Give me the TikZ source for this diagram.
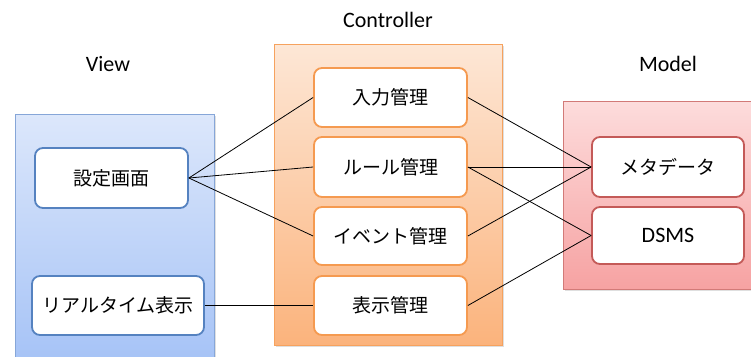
\documentclass[tikz,border=0pt]{standalone}
\usepackage{fontspec}
\setmainfont{Carlito}
\newfontfamily\jpfont{Noto Sans CJK JP}
\usetikzlibrary{shadows}
\definecolor{viewtop}{HTML}{DCE7FB}
\definecolor{viewbot}{HTML}{A3C1F6}
\definecolor{viewborder}{HTML}{86A6D8}
\definecolor{boxblue}{HTML}{5582C0}
\definecolor{ctrltop}{HTML}{FDE7D6}
\definecolor{ctrlbot}{HTML}{FBB37C}
\definecolor{ctrlborder}{HTML}{F6A25E}
\definecolor{boxorange}{HTML}{F59A50}
\definecolor{modeltop}{HTML}{FDDCDC}
\definecolor{modelbot}{HTML}{F6A2A2}
\definecolor{modelborder}{HTML}{D27A78}
\definecolor{boxred}{HTML}{C45A58}
\tikzset{
  container/.style={draw, line width=0.8pt, inner sep=0pt, anchor=north west,
    drop shadow={shadow xshift=1.5pt, shadow yshift=-1.5pt, opacity=0.25}},
  item/.style={draw, fill=white, line width=1.8pt, rounded corners=8pt,
    inner sep=0pt, minimum width=153pt, font=\jpfont\fontsize{19}{21}\selectfont},
  title/.style={font=\fontsize{22}{24}\selectfont},
  link/.style={line width=0.8pt, black}
}
\begin{document}
\begin{tikzpicture}[x=1pt,y=-1pt]
\useasboundingbox (0,0) rectangle (751,356);
\begin{scope}
\clip (0,0) rectangle (751,356);
% containers
\node[container, draw=viewborder, top color=viewtop, bottom color=viewbot,
  minimum width=199pt, minimum height=260pt] (view) at (15,114) {};
\node[container, draw=ctrlborder, top color=ctrltop, bottom color=ctrlbot,
  minimum width=228pt, minimum height=301pt] (ctrl) at (274,44) {};
\node[container, draw=modelborder, top color=modeltop, bottom color=modelbot,
  minimum width=200pt, minimum height=188pt] (model) at (563,101) {};
\end{scope}
% titles
\node[title] (tview) at (108,64) {View};
\node[title] (tctrl) at (388,20) {Controller};
\node[title] (tmodel) at (668,64) {Model};
% view items
\node[item, draw=boxblue, minimum height=60pt] (settei) at (111.5,178) {設定画面};
\node[item, draw=boxblue, minimum width=172pt, minimum height=59pt] (rt) at (118,305.5) {リアルタイム表示};
% controller items
\node[item, draw=boxorange, minimum height=59pt] (nyu) at (390.5,97.5) {入力管理};
\node[item, draw=boxorange, minimum height=60pt] (rule) at (390.5,167) {ルール管理};
\node[item, draw=boxorange, minimum height=58pt] (ev) at (390.5,236) {イベント管理};
\node[item, draw=boxorange, minimum height=59pt] (hyo) at (390.5,305.5) {表示管理};
% model items
\node[item, draw=boxred, minimum width=152pt, minimum height=60pt] (meta) at (668,167) {メタデータ};
\node[item, draw=boxred, minimum width=152pt, minimum height=57pt, font=\fontsize{22}{24}\selectfont] (dsms) at (668,235.5) {DSMS};
% links
\draw[link] (settei.east) -- (nyu.west);
\draw[link] (settei.east) -- (rule.west);
\draw[link] (settei.east) -- (ev.west);
\draw[link] (rt.east) -- (hyo.west);
\draw[link] (nyu.east) -- (meta.west);
\draw[link] (rule.east) -- (meta.west);
\draw[link] (rule.east) -- (dsms.west);
\draw[link] (ev.east) -- (meta.west);
\draw[link] (hyo.east) -- (dsms.west);
\end{tikzpicture}
\end{document}
